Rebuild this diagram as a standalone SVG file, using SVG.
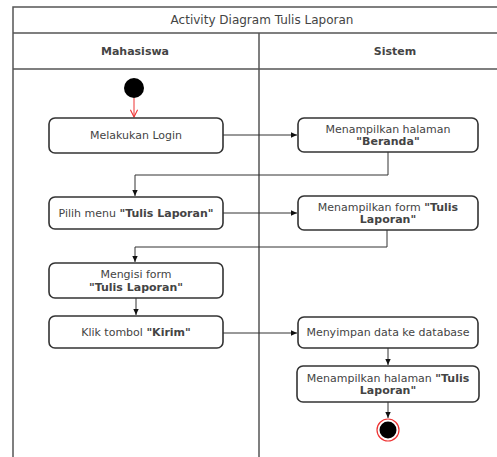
<svg xmlns="http://www.w3.org/2000/svg" width="497" height="457" viewBox="0 0 497 457">
  <defs>
    <marker id="arr" viewBox="0 0 10 10" refX="9" refY="5" markerWidth="7" markerHeight="7" orient="auto" markerUnits="userSpaceOnUse">
      <path d="M0,1 L9,5 L0,9 Z" fill="#111"/>
    </marker>
    <marker id="arrRed" viewBox="0 0 10 10" refX="9" refY="5" markerWidth="9" markerHeight="9" orient="auto" markerUnits="userSpaceOnUse">
      <path d="M1,1 L9,5 L1,9" fill="none" stroke="#e33" stroke-width="1.2"/>
    </marker>
  </defs>
  <style>
    .frame { fill: none; stroke: #555; stroke-width: 1.5; }
    .act { fill: #fff; stroke: #333; stroke-width: 1.6; }
    .t { font-family: "DejaVu Sans", Verdana, sans-serif; font-size: 11px; fill: #444; text-anchor: middle; }
    .title { font-size: 12px; }
    .b { font-weight: bold; }
    .edge { fill: none; stroke: #333; stroke-width: 1; marker-end: url(#arr); }
  </style>
  <rect width="497" height="457" fill="#fff"/>

  <!-- swimlane frame -->
  <g id="frame">
    <path class="frame" d="M13,457 L13,7 L510,7"/>
    <line class="frame" x1="13" y1="33" x2="510" y2="33"/>
    <line class="frame" x1="13" y1="69" x2="510" y2="69"/>
    <line class="frame" x1="259" y1="33" x2="259" y2="457"/>
    <text class="t title" x="262" y="24">Activity Diagram Tulis Laporan</text>
    <text class="t b" x="135" y="55">Mahasiswa</text>
    <text class="t b" x="395" y="55">Sistem</text>
  </g>

  <!-- connectors -->
  <g id="connectors">
    <line x1="134" y1="98" x2="134" y2="117" fill="none" stroke="#e33" stroke-width="1" marker-end="url(#arrRed)"/>
    <path class="edge" d="M223,135 L297,135"/>
    <path class="edge" d="M388,152 L388,175 L135,175 L135,196"/>
    <path class="edge" d="M223,213 L297,213"/>
    <path class="edge" d="M387,230 L387,247 L135,247 L135,262"/>
    <path class="edge" d="M136,298 L136,315"/>
    <path class="edge" d="M223,333 L297,333"/>
    <path class="edge" d="M388,348 L388,365"/>
    <path class="edge" d="M388,402 L388,418"/>
  </g>

  <g id="start">
    <circle cx="134" cy="88" r="10" fill="#000"/>
  </g>

  <g id="melakukan-login">
    <rect class="act" x="49" y="118" width="174" height="35" rx="6"/>
    <text class="t" x="136" y="139">Melakukan Login</text>
  </g>

  <g id="tampil-beranda">
    <rect class="act" x="298" y="118" width="180" height="34" rx="6"/>
    <text class="t" x="388" y="133">Menampilkan halaman</text>
    <text class="t b" x="388" y="145">"Beranda"</text>
  </g>

  <g id="pilih-menu">
    <rect class="act" x="49" y="197" width="174" height="32" rx="6"/>
    <text class="t" x="136" y="217">Pilih menu <tspan class="b">"Tulis Laporan"</tspan></text>
  </g>

  <g id="tampil-form">
    <rect class="act" x="298" y="196" width="180" height="34" rx="6"/>
    <text class="t" x="388" y="211">Menampilkan form <tspan class="b">"Tulis</tspan></text>
    <text class="t b" x="388" y="223">Laporan"</text>
  </g>

  <g id="mengisi-form">
    <rect class="act" x="49" y="263" width="174" height="35" rx="6"/>
    <text class="t" x="136" y="278">Mengisi form</text>
    <text class="t b" x="136" y="291">"Tulis Laporan"</text>
  </g>

  <g id="klik-kirim">
    <rect class="act" x="49" y="316" width="174" height="32" rx="6"/>
    <text class="t" x="136" y="336">Klik tombol <tspan class="b">"Kirim"</tspan></text>
  </g>

  <g id="simpan-data">
    <rect class="act" x="298" y="317" width="180" height="31" rx="6"/>
    <text class="t" x="388" y="336">Menyimpan data ke database</text>
  </g>

  <g id="tampil-laporan">
    <rect class="act" x="297" y="366" width="182" height="36" rx="6"/>
    <text class="t" x="388" y="382">Menampilkan halaman <tspan class="b">"Tulis</tspan></text>
    <text class="t b" x="388" y="394">Laporan"</text>
  </g>

  <g id="end">
    <circle cx="388" cy="430" r="11" fill="#fff" stroke="#e33" stroke-width="1.2"/>
    <circle cx="388" cy="430" r="8.5" fill="#000"/>
  </g>
</svg>
